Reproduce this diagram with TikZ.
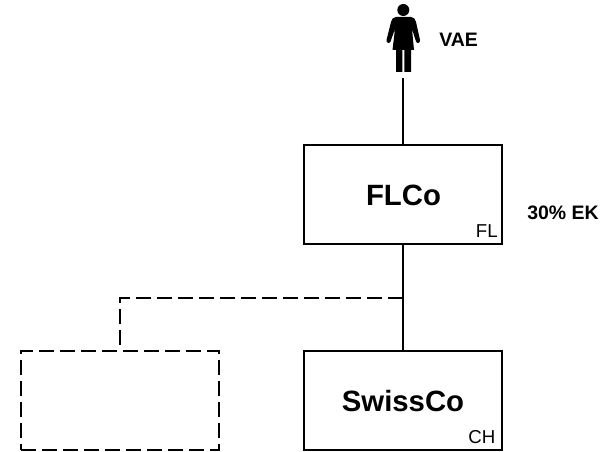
\documentclass[tikz,border=0pt]{standalone}
\usepackage{fontspec}
\setmainfont{Liberation Sans}
\tikzset{
  ent/.style={draw=black,line width=1pt,fill=white,minimum width=148.5pt,minimum height=74.25pt,inner sep=0pt},
  ghost/.style={ent,dash pattern=on 11.25pt off 4.5pt,fill=none},
  link/.style={draw=black,line width=1pt},
  dlink/.style={link,dash pattern=on 11.25pt off 4.5pt},
  big/.style={font=\bfseries\fontsize{22}{24}\selectfont,inner sep=0pt},
  lab/.style={font=\bfseries\fontsize{14.6}{16}\selectfont,inner sep=0pt},
  small/.style={font=\fontsize{14}{16}\selectfont,inner sep=0pt}
}
\begin{document}
\begin{tikzpicture}[x=0.75pt,y=-0.75pt]
\useasboundingbox (0,0) rectangle (614,452);
\fill[white] (0,0) rectangle (614,452);
\coordinate (top) at (403,78);
\coordinate (bend) at (120,298);
\node[ent] (fl) at (403,194.5) {};
\node[ent] (sw) at (403,400.5) {};
\node[ghost] (gh) at (120,400.5) {};
\node[big,anchor=base] (flt) at (403.5,206) {FLCo};
\node[big,anchor=base] (swt) at (403,411.5) {SwissCo};
\node[small,anchor=base east] (flc) at (498,238) {FL};
\node[small,anchor=base east] (chc) at (495.5,443.5) {CH};
\node[lab,anchor=base west] (vae) at (439,46.5) {VAE};
\node[lab,anchor=base west] (ek) at (527,220) {30\% EK};
\draw[link] (top) -- (fl.north);
\draw[link] (fl.south) -- (sw.north);
\draw[dlink] (fl.south |- bend) -- (bend) -- (gh.north);
% person
\fill[black] (403.3,10) circle (6);
\fill[black] (396,17) -- (411,17) .. controls (414,17) and (415,19) .. (416,22)
  -- (420,40) .. controls (420.5,43) and (417,44) .. (416,41.5) -- (412,29)
  -- (414,50) -- (411,50) -- (411,72) -- (404.3,72) -- (404.3,50) -- (402.3,50) -- (402.3,72)
  -- (396,72) -- (396,50) -- (392.5,50) -- (395,29) -- (390.5,41.5)
  .. controls (389.5,44) and (386,43) .. (386.5,40) -- (391,22)
  .. controls (392,19) and (393,17) .. (396,17) -- cycle;
\end{tikzpicture}
\end{document}
